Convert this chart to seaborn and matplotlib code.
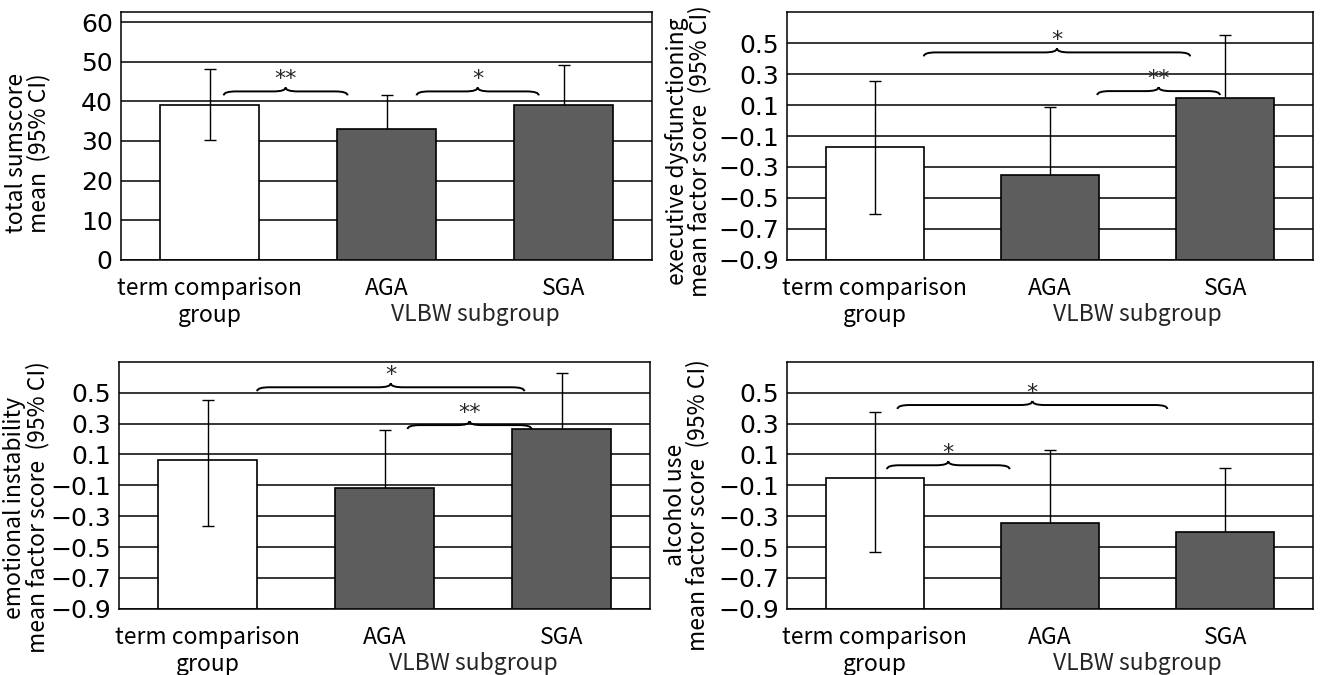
import numpy as np
import seaborn as sns
import matplotlib.pyplot as plt
from matplotlib.path import Path
from matplotlib.patches import PathPatch

sns.set_theme(style="white")
plt.rcParams['font.family'] = ['Noto Sans CJK JP', 'DejaVu Sans']

groups = ["term comparison\ngroup", "AGA", "SGA"]
bar_colors = ["white", "#5d5d5d", "#5d5d5d"]

# total sumscore
sum_mean = [39.2, 32.9, 39.2]
sum_lo = [30.2, 24.3, 29.3]
sum_hi = [48.2, 41.5, 49.1]
sum_marks = [(0.08, 0.78, 42.5, "**"), (1.17, 1.86, 42.5, "*")]

# executive dysfunctioning
exe_mean = [-0.17, -0.35, 0.145]
exe_lo = [-0.605, -0.79, -0.26]
exe_hi = [0.255, 0.09, 0.55]
exe_marks = [(0.28, 1.80, 0.44, "*"), (1.27, 1.97, 0.19, "**")]

# emotional instability
emo_mean = [0.065, -0.12, 0.263]
emo_lo = [-0.363, -0.50, -0.10]
emo_hi = [0.45, 0.26, 0.627]
emo_marks = [(0.28, 1.79, 0.535, "*"), (1.13, 1.83, 0.29, "**")]

# alcohol use
alc_mean = [-0.05, -0.346, -0.40]
alc_lo = [-0.53, -0.82, -0.815]
alc_hi = [0.376, 0.128, 0.015]
alc_marks = [(0.13, 1.67, 0.42, "*"), (0.07, 0.77, 0.03, "*")]

factor_ticks = [-0.9, -0.7, -0.5, -0.3, -0.1, 0.1, 0.3, 0.5]

panels = [
    dict(rect=[0.0916, 0.615, 0.402, 0.367], mean=sum_mean, lo=sum_lo, hi=sum_hi,
         marks=sum_marks, ticks=[0, 10, 20, 30, 40, 50, 60], ylim=(0, 62.5), fmt="{:.0f}",
         label="total sumscore\nmean  (95% CI)", lab_xy=(-0.132, 0.43)),
    dict(rect=[0.5958, 0.615, 0.398, 0.367], mean=exe_mean, lo=exe_lo, hi=exe_hi,
         marks=exe_marks, ticks=factor_ticks, ylim=(-0.9, 0.7), fmt="{:.1f}",
         label="executive dysfunctioning\nmean factor score  (95% CI)", lab_xy=(-0.143, 0.44)),
    dict(rect=[0.0901, 0.098, 0.402, 0.366], mean=emo_mean, lo=emo_lo, hi=emo_hi,
         marks=emo_marks, ticks=factor_ticks, ylim=(-0.9, 0.7), fmt="{:.1f}",
         label="emotional instability\nmean factor score  (95% CI)", lab_xy=(-0.132, 0.41)),
    dict(rect=[0.5958, 0.098, 0.398, 0.366], mean=alc_mean, lo=alc_lo, hi=alc_hi,
         marks=alc_marks, ticks=factor_ticks, ylim=(-0.9, 0.7), fmt="{:.1f}",
         label="alcohol use\nmean factor score  (95% CI)", lab_xy=(-0.148, 0.42)),
]


def draw_brace(ax, x0, x1, y, h, label):
    xm = (x0 + x1) / 2
    d = 0.07
    verts = [(x0, y - h), (x0, y), (x0 + d, y), (xm - d, y), (xm, y), (xm, y + h),
             (xm, y), (xm + d, y), (x1 - d, y), (x1, y), (x1, y - h)]
    codes = [Path.MOVETO, Path.CURVE3, Path.CURVE3, Path.LINETO, Path.CURVE3, Path.CURVE3,
             Path.CURVE3, Path.CURVE3, Path.LINETO, Path.CURVE3, Path.CURVE3]
    ax.add_patch(PathPatch(Path(verts, codes), facecolor='none', edgecolor='black',
                           lw=1.4, zorder=4))
    ax.text(xm, y + h * 0.6, label, ha='center', va='bottom', fontsize=16,
            family='DejaVu Sans', zorder=5)


fig = plt.figure(figsize=(13.21, 6.75), dpi=100)

for p in panels:
    ax = fig.add_axes(p['rect'])
    base = p['ylim'][0]
    sns.barplot(x=groups, y=p['mean'], hue=groups, order=groups, hue_order=groups,
                palette=bar_colors, saturation=1, width=0.56, edgecolor='black',
                linewidth=1.2, legend=False, ax=ax)
    for patch, m, c in zip(ax.patches, p['mean'], bar_colors):
        patch.set_y(base)
        patch.set_height(m - base)
        patch.set_zorder(2 if c == "white" else 3)

    x = np.arange(len(groups))
    mean = np.array(p['mean'])
    yerr = [mean - np.array(p['lo']), np.array(p['hi']) - mean]
    ax.errorbar(x, mean, yerr=yerr, fmt='none', ecolor='black', elinewidth=1,
                capsize=4, capthick=1, zorder=2.5)

    ax.set_xlim(-0.5, 2.5)
    ax.set_ylim(*p['ylim'])
    ax.set_yticks(p['ticks'])
    ax.set_yticklabels([p['fmt'].format(t).replace('-', '\u2212') for t in p['ticks']],
                       family='DejaVu Sans')
    ax.set_axisbelow(True)
    ax.yaxis.grid(True, color='black', lw=1.1)
    ax.xaxis.grid(False)
    for s in ax.spines.values():
        s.set_color('black')
        s.set_linewidth(1.1)
    ax.tick_params(axis='y', length=0, pad=6, labelsize=18, colors='black')
    ax.tick_params(axis='x', length=0, pad=12, labelsize=16.5, colors='black')
    for t in ax.get_xticklabels():
        t.set_linespacing(1.25)

    ax.annotate("VLBW subgroup", xy=(1.5, 0), xycoords=('data', 'axes fraction'),
                xytext=(0, -31), textcoords='offset points', ha='center', va='top',
                fontsize=16.5)

    span = p['ylim'][1] - p['ylim'][0]
    for x0, x1, y, lab in p['marks']:
        draw_brace(ax, x0, x1, y, span * 0.016, lab)

    ax.set_xlabel("")
    ax.set_ylabel(p['label'], fontsize=16.5, linespacing=0.95, color='black')
    ax.yaxis.set_label_coords(*p['lab_xy'])

fig.savefig("out.png", dpi=100, facecolor='white')
